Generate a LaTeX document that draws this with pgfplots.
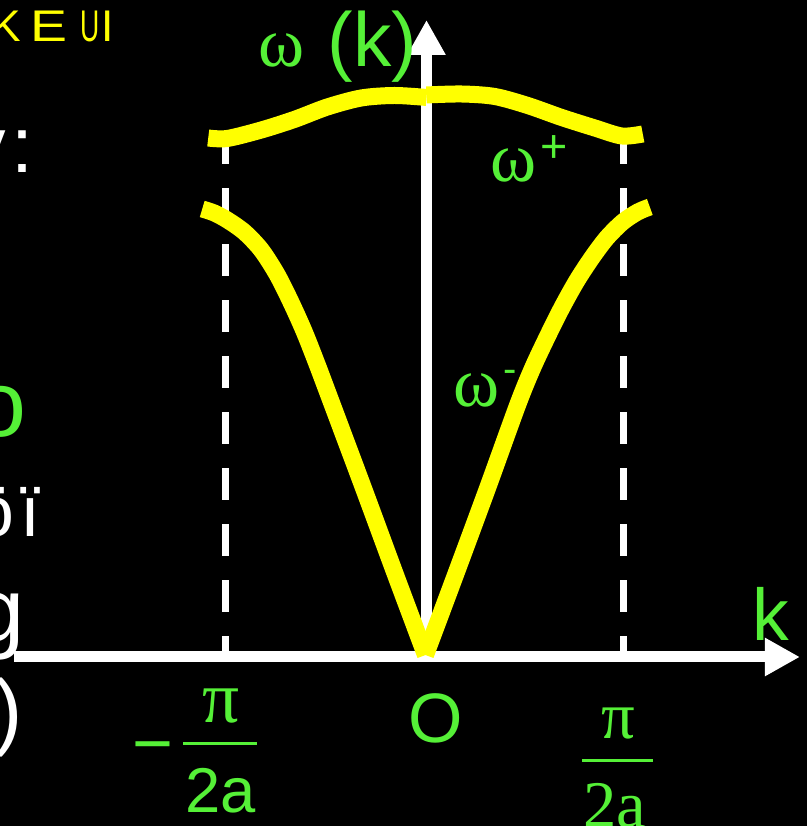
\documentclass[border=0pt]{standalone}
\usepackage{fontspec}
\setmainfont{Liberation Sans}
\newfontfamily\serif{Liberation Serif}
\usepackage{pgfplots}
\usepackage{pgfplotstable}
\pgfplotsset{compat=1.18}
\usetikzlibrary{arrows.meta}

\definecolor{lbl}{RGB}{85,240,55}
\definecolor{branch}{RGB}{255,255,0}

% k in units of pi/2a, omega in arbitrary units
% acoustic branch, left half (ends at the origin)
\pgfplotstableread{
k w
-1.1156 1.0182
-1.0553 1.0091
-0.9899 0.9932
-0.9045 0.9659
-0.8191 0.9250
-0.7387 0.8682
-0.6683 0.8045
-0.6030 0.7386
-0.5377 0.6636
-0.4623 0.5727
-0.3065 0.3841
-0.1508 0.1932
 0.0050 0.0045
}\acousticleft
% acoustic branch, right half
\pgfplotstableread{
k w
0.0050 0.0045
0.1608 0.1932
0.3166 0.3841
0.4673 0.5727
0.5427 0.6568
0.6181 0.7295
0.6884 0.7932
0.7638 0.8545
0.8392 0.9068
0.9146 0.9523
0.9950 0.9886
1.0704 1.0114
1.1307 1.0227
}\acousticright
% optical branch, left half
\pgfplotstableread{
k w
-1.0854 1.1795
-0.9899 1.1784
-0.8191 1.1977
-0.6533 1.2216
-0.4874 1.2500
-0.3166 1.2705
-0.1508 1.2761
 0.0100 1.2716
}\opticalleft
% optical branch, right half
\pgfplotstableread{
k w
0.0100 1.2773
0.1859 1.2795
0.3518 1.2739
0.5176 1.2534
0.6884 1.2261
0.8543 1.2023
0.9899 1.1841
1.0955 1.1886
}\opticalright

\begin{document}
\begin{tikzpicture}
% slide background
\fill[black] (0,0) rectangle (242.1pt,247.8pt);
\begin{axis}[
  at={(0,0)}, anchor=south west,
  x=59.775pt, y=132pt,
  xmin=-2.13049, xmax=1.91970,
  ymin=-0.38409, ymax=1.49318,
  axis lines=none, clip=false,
]
% axes with arrows
\draw[white, line width=3.3pt, -{Triangle[width=10.8pt,length=10.5pt]}]
  (axis cs:-2.06,0) -- (axis cs:1.884,0);
\draw[white, line width=3.3pt, -{Triangle[width=10.8pt,length=10.5pt]}]
  (axis cs:0.01,0) -- (axis cs:0.01,1.4477);
% zone boundaries k = -pi/2a and k = pi/2a
\draw[white, line width=2.1pt, dash pattern=on 9.6pt off 7.2pt]
  (axis cs:-1,1.193) -- (axis cs:-1,0);
\draw[white, line width=2.1pt, dash pattern=on 9.6pt off 7.2pt]
  (axis cs:1,1.193) -- (axis cs:1,0);
% dispersion branches
\addplot[branch, line width=5.1pt, smooth, no markers] table[x=k,y=w] {\opticalleft};
\addplot[branch, line width=5.1pt, smooth, no markers] table[x=k,y=w] {\opticalright};
\addplot[branch, line width=5.1pt, smooth, no markers] table[x=k,y=w] {\acousticleft};
\addplot[branch, line width=5.1pt, smooth, no markers] table[x=k,y=w] {\acousticright};
\end{axis}

% labels, placed in 0.3pt units from the top left corner
\begin{scope}[shift={(0,247.8pt)}, x=0.3pt, y=-0.3pt, every node/.style={inner sep=0pt}]
  \node[anchor=base west, text=lbl, font=\serif\fontsize{21}{21}\selectfont] at (258,67) {ω};
  \node[anchor=base west, text=lbl, font=\fontsize{23}{23}\selectfont] at (327,67) {(k)};
  \node[anchor=base west, text=lbl, font=\serif\fontsize{21}{21}\selectfont] at (490,182) {ω};
  \node[anchor=base, text=lbl, font=\fontsize{14}{14}\selectfont] at (554,163) {+};
  \node[anchor=base west, text=lbl, font=\serif\fontsize{21}{21}\selectfont] at (453,407) {ω};
  \node[anchor=base, text=lbl, font=\fontsize{12}{12}\selectfont] at (510.5,383) {-};
  \node[anchor=base west, text=lbl, font=\fontsize{22}{22}\selectfont] at (752,640) {k};
  \node[anchor=base, text=lbl, font=\fontsize{21}{21}\selectfont] at (435.5,742) {O};
  % -pi/2a
  \node[anchor=base, text=lbl, font=\fontsize{21}{21}\selectfont] at (152.5,767) {−};
  \node[anchor=base, text=lbl, font=\serif\fontsize{22}{22}\selectfont] at (221.5,722) {π};
  \draw[lbl, line width=0.9pt] (183,743) -- (257,743);
  \node[anchor=base, text=lbl, font=\fontsize{19}{19}\selectfont] at (221,812) {2a};
  % pi/2a
  \node[anchor=base, text=lbl, font=\serif\fontsize{20}{20}\selectfont] at (618.5,738) {π};
  \draw[lbl, line width=0.9pt] (582,760) -- (653,760);
  \node[anchor=base, text=lbl, font=\serif\fontsize{20}{20}\selectfont] at (615,827) {2a};
  % slide text along the left edge
  \node[anchor=base east, text=branch, font=\fontsize{13.3}{13.3}\selectfont] at (22,42) {K};
  \node[anchor=base west, text=branch, font=\fontsize{13.3}{13.3}\selectfont] at (30,42) {\scalebox{1.25}[1]{E}};
  \node[anchor=base west, text=branch, font=\fontsize{13.3}{13.3}\selectfont] at (80,42) {\scalebox{0.6}[1]{U}};
  \node[anchor=base west, text=branch, font=\fontsize{13.3}{13.3}\selectfont] at (101,42) {I};
  \node[anchor=base east, text=white, font=\fontsize{23.7}{23.7}\selectfont] at (7,173) {y};
  \node[anchor=base west, text=white, font=\fontsize{23.7}{23.7}\selectfont] at (11,173) {:};
  \node[anchor=base, text=lbl, font=\fontsize{28}{28}\selectfont] at (0,437) {o};
  \node[anchor=base east, text=white, font=\fontsize{21.5}{21.5}\selectfont] at (15,537) {ö};
  \node[anchor=base, text=white, font=\fontsize{21.5}{21.5}\selectfont] at (30,537) {ï};
  \node[anchor=base east, text=white, font=\fontsize{27}{27}\selectfont] at (25,641) {g};
  \node[anchor=base east, text=white, font=\fontsize{25.5}{25.5}\selectfont] at (23,739) {)};
\end{scope}
\pgfresetboundingbox
\useasboundingbox (0,0) rectangle (242.1pt,247.8pt);
\end{tikzpicture}
\end{document}
